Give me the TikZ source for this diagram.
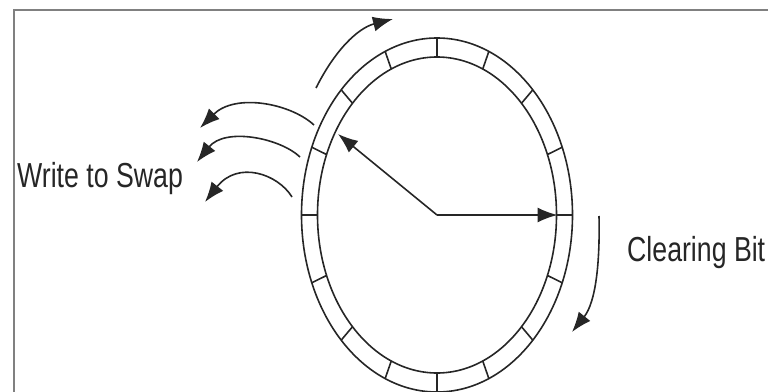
\documentclass[tikz,border=0pt]{standalone}
\usepackage{fontspec}
\setmainfont{Liberation Sans}
\usetikzlibrary{arrows.meta}
\begin{document}
\begin{tikzpicture}[x=1pt,y=-1pt,
  ring/.style={line width=1.6pt, black!85},
  arr/.style={line width=1.6pt, black!85, -{Latex[length=20pt,width=15pt]}},
  lbl/.style={inner sep=0pt, anchor=base west, font=\fontsize{26.7}{30}\selectfont, text=black!85}]
\useasboundingbox (0,0) rectangle (768,391);
\draw[black!50, line width=2pt] (14,400) -- (14,10) -- (780,10);
% ring
\draw[ring] (437,215) ellipse [x radius=135.5pt, y radius=177pt];
\draw[ring] (437,215) ellipse [x radius=119.5pt, y radius=158pt];
\foreach \a in {0,22.5,...,337.5}
  \draw[ring] ({437+119.5*cos(\a)},{215-158*sin(\a)}) -- ({437+135.5*cos(\a)},{215-177*sin(\a)});
% hands
\coordinate (O) at (437,215);
\coordinate (hand1) at (557.5,215);
\coordinate (hand2) at (338,134);
\draw[arr] (O) -- (hand1);
\draw[arr] (O) -- (hand2);
% top rotation arrow
\coordinate (t0) at (316,88);
\coordinate (t1) at (393,19);
\draw[arr] (t0) .. controls (335,50) and (358,28) .. (t1);
% write-to-swap arrows
\coordinate (a0) at (314,125);
\coordinate (a1) at (200,128);
\draw[arr] (a0) .. controls (290,103) and (235,93) .. (a1);
\coordinate (b0) at (300,157);
\coordinate (b1) at (197,162);
\draw[arr] (b0) .. controls (280,138) and (225,127) .. (b1);
\coordinate (c0) at (292,197);
\coordinate (c1) at (205,202);
\draw[arr] (c0) .. controls (278,174) and (238,160) .. (c1);
% clearing arrow
\coordinate (r0) at (599,216);
\coordinate (r1) at (572,332);
\draw[arr] (r0) .. controls (600,262) and (596,302) .. (r1);
% labels
\node[lbl] (swap) at (17,187) {\scalebox{1}[1.3]{Write to Swap}};
\node[lbl] (clear) at (627,261) {\scalebox{1}[1.3]{Clearing Bit}};
\end{tikzpicture}
\end{document}
